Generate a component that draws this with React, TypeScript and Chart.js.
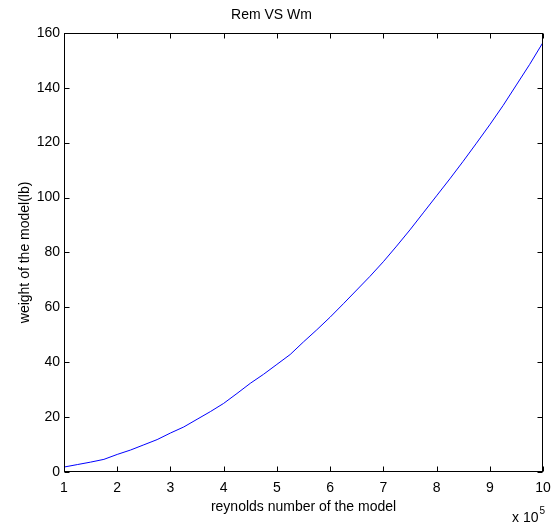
import React, { useEffect, useRef } from "react";
import { Chart, registerables } from "chart.js";

Chart.register(...registerables);

const reynolds = [1.0, 1.25, 1.5, 1.75, 2.0, 2.25, 2.5, 2.75, 3.0, 3.25, 3.5, 3.75, 4.0, 4.25, 4.5, 4.75, 5.0, 5.25, 5.5, 5.75, 6.0, 6.25, 6.5, 6.75, 7.0, 7.25, 7.5, 7.75, 8.0, 8.25, 8.5, 8.75, 9.0, 9.25, 9.5, 9.75, 10.0];
const weight = [1.8, 2.7, 3.6, 4.6, 6.4, 8.0, 9.9, 11.8, 14.2, 16.4, 19.2, 22.0, 25.0, 28.6, 32.3, 35.6, 39.2, 42.8, 47.4, 51.8, 56.4, 61.3, 66.3, 71.3, 76.6, 82.3, 88.2, 94.4, 100.6, 106.8, 113.2, 119.8, 126.5, 133.5, 141.0, 148.5, 156.5];

const title = "Rem VS Wm";
const xTitle = "reynolds number of the model";
const yTitle = "weight of the model(lb)";
const xMin = 1, xMax = 10, xStep = 1;
const yMin = 0, yMax = 160, yStep = 20;

const FONT = "'Liberation Sans', Arial, Helvetica, sans-serif";

const framePlugin = {
  id: "frame",
  afterDraw(chart: any) {
    const { ctx, chartArea, scales } = chart;
    const { left, right, top, bottom } = chartArea;
    const x = scales.x, y = scales.y;
    ctx.save();
    ctx.strokeStyle = "#000";
    ctx.lineWidth = 1;
    const L = Math.round(left) + 0.5, R = Math.round(right) - 0.5;
    const T = Math.round(top) + 0.5, B = Math.round(bottom) - 0.5;
    ctx.strokeRect(L, T, R - L, B - T);
    const tl = 5;
    ctx.beginPath();
    x.ticks.forEach((t: any) => {
      const px = Math.round(x.getPixelForValue(t.value)) + 0.5;
      ctx.moveTo(px, B); ctx.lineTo(px, B - tl);
      ctx.moveTo(px, T); ctx.lineTo(px, T + tl);
    });
    y.ticks.forEach((t: any) => {
      const py = Math.round(y.getPixelForValue(t.value)) + 0.5;
      ctx.moveTo(L, py); ctx.lineTo(L + tl, py);
      ctx.moveTo(R, py); ctx.lineTo(R - tl, py);
    });
    ctx.stroke();
    // exponent label
    ctx.fillStyle = "#000";
    ctx.textBaseline = "alphabetic";
    ctx.textAlign = "left";
    ctx.font = `14px ${FONT}`;
    const base = "x 10";
    const bx = right - 31;
    ctx.fillText(base, bx, 522);
    const w = ctx.measureText(base).width;
    ctx.font = `10px ${FONT}`;
    ctx.fillText("5", bx + w + 1, 514);
    ctx.restore();
  },
};

export default function App() {
  const ref = useRef<HTMLCanvasElement>(null);
  useEffect(() => {
    if (!ref.current) return;
    const chart = new Chart(ref.current, {
      type: "line",
      data: {
        datasets: [
          {
            data: reynolds.map((r, i) => ({ x: r, y: weight[i] })),
            borderColor: "#0000ff",
            borderWidth: 1,
            pointRadius: 0,
            tension: 0,
            fill: false,
          },
        ],
      },
      options: {
        animation: false,
        responsive: false,
        layout: { padding: { left: 0, right: 10, top: 0, bottom: 0 } },
        plugins: {
          legend: { display: false },
          tooltip: { enabled: false },
          title: {
            display: true,
            text: title,
            color: "#000",
            font: { family: FONT, size: 14, weight: "normal" },
            padding: { top: 7, bottom: 9 },
          },
        },
        scales: {
          x: {
            type: "linear",
            min: xMin,
            max: xMax,
            grid: { display: false, drawTicks: false },
            border: { display: false },
            ticks: { stepSize: xStep, color: "#000", padding: 8, font: { family: FONT, size: 14 }, maxRotation: 0 },
            title: { display: true, text: xTitle, color: "#000", font: { family: FONT, size: 14 }, padding: { top: 0, bottom: 7 } },
            afterFit(scale: any) { scale.height = 51; scale.paddingLeft = 0; scale.paddingRight = 0; },
          },
          y: {
            type: "linear",
            min: yMin,
            max: yMax,
            grid: { display: false, drawTicks: false },
            border: { display: false },
            ticks: { stepSize: yStep, color: "#000", padding: 4, font: { family: FONT, size: 14 } },
            title: { display: true, text: yTitle, color: "#000", font: { family: FONT, size: 14 }, padding: { top: 17, bottom: 0 } },
            afterFit(scale: any) { scale.width = 64; scale.paddingTop = 0; scale.paddingBottom = 0; },
          },
        },
      },
      plugins: [framePlugin],
    });
    return () => chart.destroy();
  }, []);
  return (
    <div style={{ position: "absolute", left: 0, top: 0, width: 553, height: 523, background: "#fff" }}>
      <canvas ref={ref} width={553} height={523} />
    </div>
  );
}
